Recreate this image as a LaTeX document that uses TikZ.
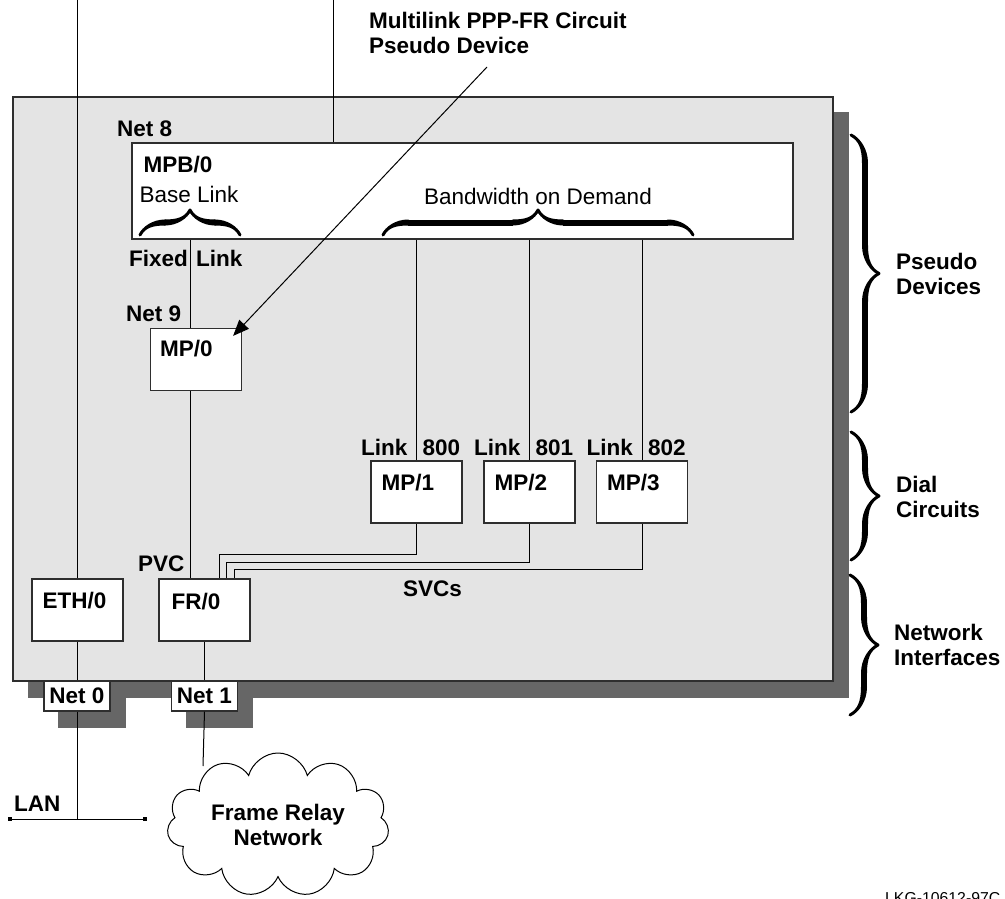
\documentclass[tikz,border=0pt]{standalone}
\usepackage{fontspec}
\setmainfont{Liberation Sans}
\usetikzlibrary{arrows.meta,positioning,calc,backgrounds,shapes.symbols,
  decorations.pathreplacing,calligraphy}
\definecolor{panel}{HTML}{E4E4E4}
\definecolor{dropc}{HTML}{666666}
\definecolor{edge}{HTML}{2E2E2E}
\newcommand\figfont{\fontsize{22.5pt}{25pt}\selectfont}
\tikzset{
  chassis/.style={draw=edge,line width=1.2pt,fill=panel,inner sep=0pt},
  dev/.style={draw=edge,line width=1.2pt,fill=white,inner sep=0pt,
    minimum width=91pt,minimum height=62pt},
  devname/.style={anchor=base west,inner sep=0pt,font=\figfont\bfseries},
  tag/.style={anchor=base west,inner sep=0pt,font=\figfont\bfseries},
  plain/.style={anchor=base west,inner sep=0pt,font=\figfont},
  port/.style={draw=edge,line width=1.2pt,fill=white,inner sep=0pt,
    minimum width=66pt,minimum height=30pt,font=\figfont\bfseries},
  wire/.style={draw=black,line width=1pt},
  pointer/.style={wire,-{Triangle[length=16pt,width=13pt]}},
  cbrace/.style={decorate,decoration={calligraphic brace,amplitude=#1},line width=6pt},
  side/.style={anchor=west,align=left,inner sep=0pt,font=\figfont\bfseries},
}
\begin{document}
\begin{tikzpicture}[x=1pt,y=-1pt]
  \useasboundingbox (0,0) rectangle (1005,899);
  % router chassis
  \node[chassis,minimum width=820pt,minimum height=584pt] (rack) at (423,389) {};
  \node[port] (net0) at (77,696) {Net 0};
  \node[port] (net1) at (204.5,696) {Net 1};
  \begin{scope}[on background layer]
    \fill[dropc] ([shift={(16,16)}]rack.north west) rectangle ([shift={(15,16)}]rack.south east);
    \foreach \p in {net0,net1}
      \fill[dropc] ([shift={(15,16)}]\p.north west) rectangle ([shift={(15,16)}]\p.south east);
  \end{scope}
  % pseudo devices
  \node[dev,minimum width=661pt,minimum height=96pt] (mpb) at (462.5,191) {};
  \node[devname] (mpbt) at ($(mpb.north west)+(12,30)$) {MPB/0};
  \node[plain] (base) at ($(mpb.north west)+(8,60)$) {Base Link};
  \node[plain,anchor=base] (bod) at (538,204) {Bandwidth on Demand};
  \node[tag] (net8) at (117,136) {Net 8};
  \node[dev] (mp0) at (196,359.5) {};
  \node[devname] (mp0t) at ($(mp0.north west)+(10,29)$) {MP/0};
  \node[tag] (net9) at (126,321) {Net 9};
  \node[tag,anchor=base east] (fixa) at (188,266) {Fixed};
  \node[tag] (fixb) at (196,266) {Link};
  \coordinate (fx) at (190,0);
  % network interfaces
  \node[dev] (eth0) at (77.5,610) {};
  \node[devname] (eth0t) at ($(eth0.north west)+(11,30)$) {ETH/0};
  \node[dev] (fr0) at (204.5,610) {};
  \node[devname] (fr0t) at ($(fr0.north west)+(13,31)$) {FR/0};
  \node[tag] (pvc) at (138,571) {PVC};
  \node[tag] (svc) at (403,596) {SVCs};
  % dial circuits
  \foreach \n/\x/\k/\d/\c in {1/416.5/800/31/61,2/529.5/801/39/68,3/642/802/46/76}{
    \node[dev] (mp\n) at (\x,492) {};
    \node[devname] (mp\n t) at ($(mp\n.north west)+(11,30)$) {MP/\n};
    \node[tag,anchor=base east] (lk\n) at ($(mp\n.north)+(-9,-5)$) {Link};
    \node[tag] (lkn\n) at ($(mp\n.north)+(6,-5)$) {\k};
    \draw[wire] (mpb.south -| mp\n.north) -- (mp\n.north);
    \draw[wire] (mp\n.south) -- ++(0,\d) -| ($(fr0.north west)+(\c,0)$);
  }
  % braces
  \draw[cbrace=25pt] (140,235) -- (240,235);
  \draw[cbrace=25pt] (383,235) -- (693,235);
  \draw[cbrace=28pt] (851,135) -- (851,412);
  \draw[cbrace=28pt] (851,432) -- (851,560);
  \draw[cbrace=28pt] (850,575) -- (850,715);
  \node[side] (sdp) at (896,273.5) {Pseudo\\Devices};
  \node[side] (sdc) at (896,496.5) {Dial\\Circuits};
  \node[side] (sni) at (894,645) {Network\\Interfaces};
  % wiring
  \coordinate (top0) at (77,0);
  \coordinate (top8) at (333,0);
  \draw[wire] (top0) -- (eth0.north -| top0);
  \draw[wire] (top8) -- (mpb.north -| top8);
  \draw[wire] (mpb.south -| fx) -- (mp0.north -| fx);
  \draw[wire] (mp0.south -| fx) -- (fr0.north -| fx);
  \draw[wire] (eth0.south -| net0) -- (net0.north);
  \draw[wire] (fr0.south -| net1.north) -- (net1.north);
  % LAN segment
  \coordinate (lanl) at (10,819);
  \coordinate (lanr) at (145,819);
  \draw[wire] (net0.south) -- (net0.south |- lanl);
  \draw[wire] (lanl) -- (lanr);
  \foreach \e in {lanl,lanr} \fill (\e) +(-2,-2) rectangle +(2,2);
  \node[tag] (lan) at (14,811) {LAN};
  % frame relay cloud
  \node[cloud,cloud puffs=11,cloud ignores aspect,draw,line width=1pt,fill=white,inner sep=0pt,
    minimum width=222pt,minimum height=144pt,align=center,font=\figfont\bfseries]
    (frn) at (278,825) {Frame Relay\\Network};
  \coordinate (frtop) at (203,766);
  \draw[wire] (net1.south) -- (frtop);
  % callout
  \node[anchor=north west,align=left,inner sep=0pt,font=\figfont\bfseries] (mlk) at (369,12)
    {Multilink PPP-FR Circuit\\Pseudo Device};
  \coordinate (ptr) at (487,67);
  \draw[pointer] (ptr) -- ($(mp0.north east)+(-9,8)$);
  \node[anchor=north west,inner sep=0pt,font=\fontsize{15.8pt}{18pt}\selectfont] (lkg) at (885,892) {LKG-10612-97C};
\end{tikzpicture}
\end{document}
